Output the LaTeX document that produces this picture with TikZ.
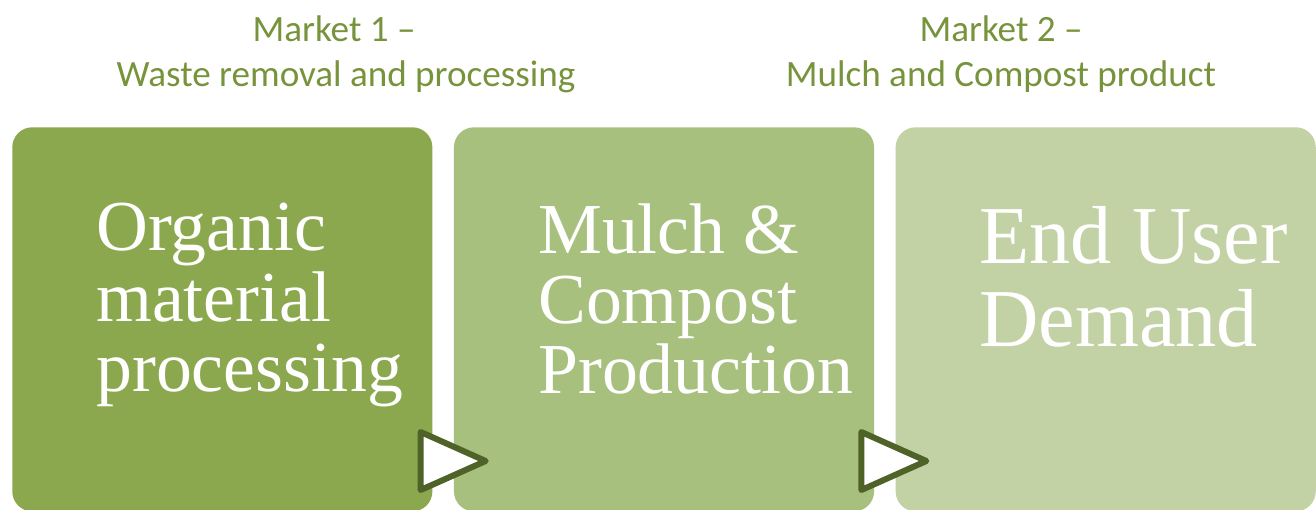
\documentclass[tikz,border=0pt]{standalone}
\usepackage{fontspec}
\setmainfont{Liberation Serif}
\newfontfamily\headfont{Carlito}
\usetikzlibrary{positioning,calc}
\definecolor{StageOne}{RGB}{139,168,79}
\definecolor{StageTwo}{RGB}{168,192,125}
\definecolor{StageThree}{RGB}{194,210,165}
\definecolor{MarketGreen}{RGB}{119,147,60}
\definecolor{MarkerGreen}{RGB}{79,98,40}

\begin{document}
\begin{tikzpicture}[
x=0.025cm,y=-0.025cm,
node distance=0.525cm,
stage/.style={rectangle,rounded corners=0.5cm,minimum width=10.5cm,minimum height=9.6cm,inner sep=0pt},
stagetext/.style={anchor=north west,align=left,text=white,inner sep=0pt,font=\fontsize{51}{50}\selectfont},
market/.style={anchor=north,align=center,text=MarketGreen,inner sep=0pt,font=\headfont\fontsize{26.4}{32}\selectfont},
marker/.style={draw=MarkerGreen,fill=white,line width=0.15cm,line join=round}
]
\useasboundingbox (0,0) rectangle (1316,509);
% the three stages
\node[stage,fill=StageOne,anchor=north west] (org) at (12,127) {};
\node[stage,fill=StageTwo,right=of org] (mulch) {};
\node[stage,fill=StageThree,right=of mulch] (user) {};
\node[stagetext] (orgtxt) at (96,203) {Organic\\material\\processing};
\node[stagetext] (mulchtxt) at (538,203) {Mulch \&\\Compost\\Production};
\node[stagetext,font=\fontsize{58.5}{59}\selectfont] (usertxt) at (979,206) {End User\\Demand};
% market headings
\node[market] (mkone) at (346,15) {Market 1 –\kern0.6cm\\Waste removal and processing};
\node[market] (mktwo) at (1001,15) {Market 2 –\\Mulch and Compost product};
% step markers between stages
\coordinate (tone) at ($(org.north east)+(-12,305)$);
\coordinate (ttwo) at ($(mulch.north east)+(-13,305)$);
\draw[marker] (tone) -- ++(0,58) -- ++(65,-29) -- cycle;
\draw[marker] (ttwo) -- ++(0,58) -- ++(65,-29) -- cycle;
\end{tikzpicture}
\end{document}
